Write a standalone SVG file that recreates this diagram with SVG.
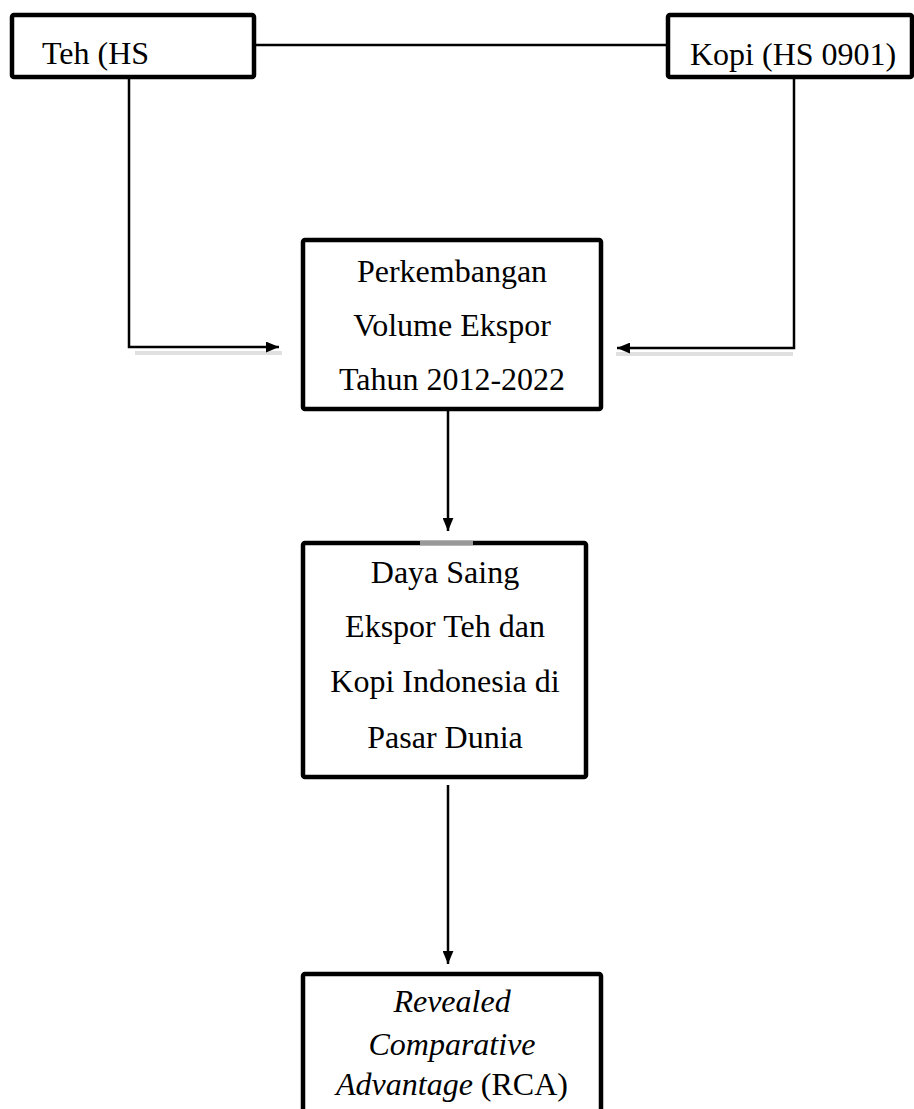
<svg xmlns="http://www.w3.org/2000/svg" width="914" height="1109" viewBox="0 0 914 1109">
<style>
.box{fill:#fff;stroke:#000;stroke-width:4.5;}
.t{font-family:"Liberation Serif","Times New Roman",serif;font-size:32px;fill:#000;}
.c{text-anchor:middle;}
.conn{stroke:#000;stroke-width:2.5;fill:none;}
.shadow{stroke:#e0e0e0;stroke-width:4;fill:none;}
</style>
<defs>
<marker id="ah" viewBox="0 0 12 10" refX="12" refY="5" markerWidth="13" markerHeight="11" markerUnits="userSpaceOnUse" orient="auto">
<path d="M0,0 L12,5 L0,10 z" fill="#000"/>
</marker>
</defs>
<rect width="914" height="1109" fill="#fff"/>
<g id="connectors">
<line class="conn" x1="256" y1="45" x2="666" y2="45" stroke-width="1.5"/>
<line class="shadow" x1="135" y1="353" x2="282" y2="353"/>
<polyline class="conn" points="129,78 129,347 279,347" marker-end="url(#ah)"/>
<line class="shadow" x1="616" y1="354" x2="793" y2="354"/>
<polyline class="conn" points="794,78 794,348 617,348" marker-end="url(#ah)"/>
<line class="conn" x1="448" y1="410" x2="448" y2="531" marker-end="url(#ah)"/>
<line class="conn" x1="448" y1="785" x2="448" y2="964" marker-end="url(#ah)"/>
</g>
<g id="teh">
<rect class="box" x="12" y="15" width="242" height="62" rx="2"/>
<text class="t" x="42" y="64">Teh (HS</text>
</g>
<g id="kopi">
<rect class="box" x="668" y="15" width="244" height="62" rx="2"/>
<text class="t" x="690" y="65">Kopi (HS 0901)</text>
</g>
<g id="perkembangan">
<rect class="box" x="303" y="240" width="298" height="169" rx="2"/>
<text class="t c" x="452" y="282">Perkembangan</text>
<text class="t c" x="452" y="336">Volume Ekspor</text>
<text class="t c" x="452" y="390">Tahun 2012-2022</text>
</g>
<g id="dayasaing">
<rect class="box" x="303" y="543" width="283" height="234" rx="2"/>
<line x1="420" y1="543" x2="473" y2="543" stroke="#999" stroke-width="4.5"/>
<text class="t c" x="445" y="583">Daya Saing</text>
<text class="t c" x="445" y="637">Ekspor Teh dan</text>
<text class="t c" x="445" y="692">Kopi Indonesia di</text>
<text class="t c" x="445" y="748">Pasar Dunia</text>
</g>
<g id="rca">
<rect class="box" x="303" y="974" width="298" height="160" rx="2"/>
<text class="t c" x="452" y="1012" font-style="italic">Revealed</text>
<text class="t c" x="452" y="1055" font-style="italic">Comparative</text>
<text class="t c" x="452" y="1095"><tspan font-style="italic">Advantage</tspan> (RCA)</text>
</g>
</svg>
